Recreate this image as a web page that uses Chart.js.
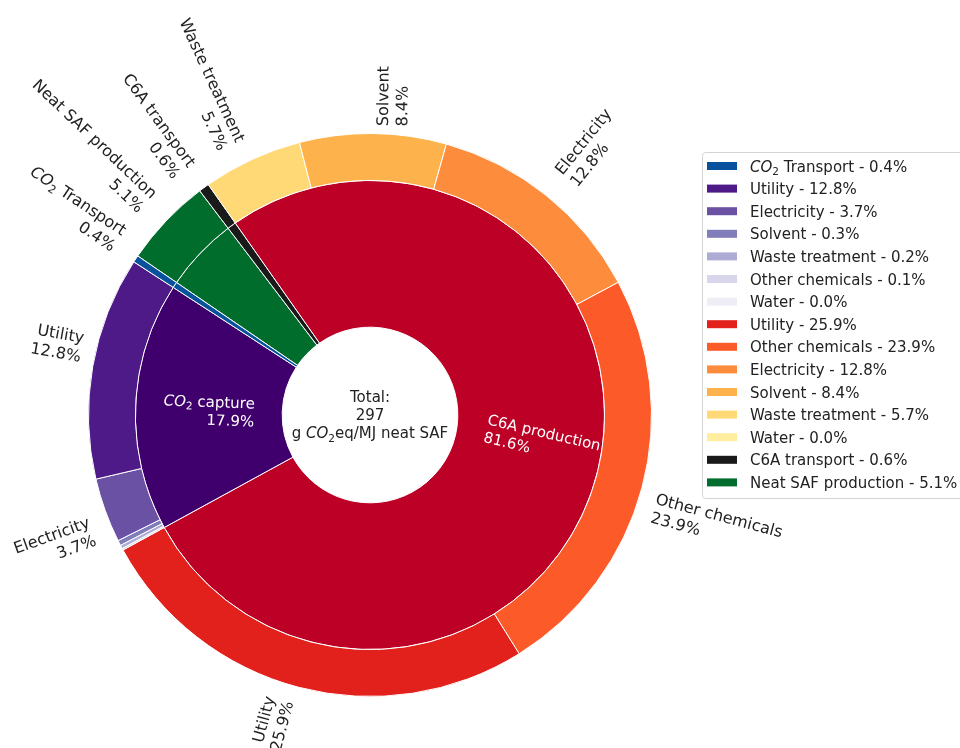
<!DOCTYPE html>
<html>
<head>
<meta charset="utf-8">
<script src="https://cdn.jsdelivr.net/npm/chart.js@4.4.0/dist/chart.umd.min.js"></script>
<style>
  html, body { margin: 0; padding: 0; background: #fff; }
  canvas { display: block; }
</style>
</head>
<body>
<canvas id="chart" width="960" height="748"></canvas>
<script>
// outer ring, listed in legend order (counter-clockwise in the original)
const outerNames = ['CO₂ Transport', 'Utility', 'Electricity', 'Solvent', 'Waste treatment', 'Other chemicals', 'Water',
  'Utility', 'Other chemicals', 'Electricity', 'Solvent', 'Waste treatment', 'Water', 'C6A transport', 'Neat SAF production'];
const outerValues = [0.4, 12.8, 3.7, 0.3, 0.2, 0.1, 0.0, 25.9, 23.9, 12.8, 8.4, 5.7, 0.0, 0.6, 5.1];
const outerColors = ['#08519c', '#4d1a88', '#6a51a3', '#807dba', '#aeabd4', '#d7d6ea', '#efedf5',
  '#e3211c', '#fd5a2a', '#fd8d3c', '#feb24c', '#fed976', '#ffeda0', '#1a1a1a', '#006d2c'];

// inner ring (stage totals)
const innerNames = ['CO₂ Transport', 'CO₂ capture', 'C6A production', 'C6A transport', 'Neat SAF production'];
const innerValues = [0.4, 17.1, 76.7, 0.6, 5.1];
const innerShares = [null, 17.9, 81.6, null, null];
const innerColors = ['#08519c', '#3f006d', '#bd0026', '#1a1a1a', '#006d2c'];

const totalValue = 297;
const totalUnit = 'g CO₂eq/MJ neat SAF';

const FONT = '"DejaVu Sans", sans-serif';
const TEXT = '#222';

// split text so CO₂ gets an italic CO and a lowered 2
function segments(text) {
  const out = [];
  text.split('CO₂').forEach((part, i) => {
    if (i > 0) {
      out.push({ t: 'CO', style: 'italic', scale: 1, dy: 0 });
      out.push({ t: '2', style: 'normal', scale: 0.7, dy: 0.22 });
    }
    if (part) out.push({ t: part, style: 'normal', scale: 1, dy: 0 });
  });
  return out;
}

function setFont(ctx, seg, size) {
  ctx.font = seg.style + ' ' + (size * seg.scale) + 'px ' + FONT;
}

function richWidth(ctx, text, size) {
  let w = 0;
  segments(text).forEach(s => { setFont(ctx, s, size); w += ctx.measureText(s.t).width; });
  return w;
}

function drawRich(ctx, text, x, y, size) {
  segments(text).forEach(s => {
    setFont(ctx, s, size);
    ctx.fillText(s.t, x, y + s.dy * size);
    x += ctx.measureText(s.t).width;
  });
}

// rotate a text block, then align its bounding box on the anchor (like matplotlib)
function drawBlock(ctx, lines, xt, yt, rotDeg, ha, va, size, color) {
  const lineH = size * 1.2;
  const widths = lines.map(l => richWidth(ctx, l, size));
  const w = Math.max(...widths);
  const h = (lines.length - 1) * lineH + size * 1.16;
  const th = -rotDeg * Math.PI / 180;
  const c = Math.cos(th), s = Math.sin(th);
  const xs = [], ys = [];
  [[0, 0], [w, 0], [0, h], [w, h]].forEach(([px, py]) => {
    xs.push(px * c - py * s);
    ys.push(px * s + py * c);
  });
  const minX = Math.min(...xs), maxX = Math.max(...xs);
  const minY = Math.min(...ys), maxY = Math.max(...ys);
  const ox = ha === 'left' ? xt - minX : ha === 'right' ? xt - maxX : xt - (minX + maxX) / 2;
  const oy = va === 'top' ? yt - minY : va === 'bottom' ? yt - maxY : yt - (minY + maxY) / 2;
  ctx.save();
  ctx.translate(ox, oy);
  ctx.rotate(th);
  ctx.fillStyle = color;
  ctx.textAlign = 'left';
  ctx.textBaseline = 'alphabetic';
  lines.forEach((l, i) => {
    const lx = ha === 'left' ? 0 : ha === 'right' ? w - widths[i] : (w - widths[i]) / 2;
    drawRich(ctx, l, lx, i * lineH + size * 0.93, size);
  });
  ctx.restore();
}

function ringLabel(ctx, arc, lines, dist, vaFixed, size, color) {
  const p = arc.getProps(['x', 'y', 'startAngle', 'endAngle'], true);
  const a = (p.startAngle + p.endAngle) / 2;
  const xt = p.x + dist * Math.cos(a);
  const yt = p.y + dist * Math.sin(a);
  const right = xt > p.x;
  const va = vaFixed || (yt < p.y ? 'bottom' : 'top');
  const rot = -a * 180 / Math.PI + (right ? 0 : 180);
  drawBlock(ctx, lines, xt, yt, rot, right ? 'left' : 'right', va, size, color);
}

const labelPlugin = {
  id: 'sunburstText',
  afterDraw(chart) {
    const ctx = chart.ctx;
    const outerArcs = chart.getDatasetMeta(0).data;
    const innerArcs = chart.getDatasetMeta(1).data;
    const n = outerValues.length;

    // outer labels (skip the tiny slices)
    outerArcs.forEach((arc, j) => {
      const i = n - 1 - j;
      if (outerValues[i] < 0.4) return;
      const r = arc.getProps(['outerRadius'], true).outerRadius;
      ringLabel(ctx, arc, [outerNames[i], outerValues[i].toFixed(1) + '%'], r * 1.025, null, 16, TEXT);
    });

    // inner labels
    const m = innerValues.length;
    innerArcs.forEach((arc, j) => {
      const i = m - 1 - j;
      if (innerShares[i] == null) return;
      const r = arc.getProps(['outerRadius'], true).outerRadius;
      ringLabel(ctx, arc, [innerNames[i], innerShares[i].toFixed(1) + '%'], r * 0.49, 'center', 15, '#fff');
    });

    // centre text
    const c = outerArcs[0].getProps(['x', 'y'], true);
    drawBlock(ctx, ['Total:', String(totalValue), totalUnit], c.x, c.y, 0, 'center', 'center', 15, TEXT);

    // legend
    const lx = 702, ly = 152, lw = 262, lh = 346, row = 22.6;
    ctx.save();
    ctx.fillStyle = 'rgba(255,255,255,0.9)';
    ctx.strokeStyle = '#d4d4d4';
    ctx.lineWidth = 1;
    ctx.beginPath();
    ctx.roundRect(lx + 0.5, ly + 0.5, lw, lh, 3);
    ctx.fill();
    ctx.stroke();
    ctx.restore();
    outerNames.forEach((name, i) => {
      const y = ly + 14 + i * row;
      ctx.fillStyle = outerColors[i];
      ctx.fillRect(707, y - 4, 30, 8);
      ctx.fillStyle = TEXT;
      ctx.textAlign = 'left';
      ctx.textBaseline = 'alphabetic';
      drawRich(ctx, name + ' - ' + outerValues[i].toFixed(1) + '%', 750, y + 5.5, 15);
    });
  }
};

const rev = a => a.slice().reverse();

new Chart(document.getElementById('chart').getContext('2d'), {
  type: 'doughnut',
  data: {
    labels: rev(outerNames),
    datasets: [
      {
        label: 'Contribution',
        data: rev(outerValues),
        backgroundColor: rev(outerColors),
        borderColor: '#fff',
        borderWidth: 1,
        weight: 47
      },
      {
        label: 'Stage',
        data: rev(innerValues),
        backgroundColor: rev(innerColors),
        borderColor: '#fff',
        borderWidth: 1,
        weight: 147
      }
    ]
  },
  options: {
    responsive: false,
    animation: false,
    rotation: -55.6,
    cutout: '31.2%',
    layout: { padding: { left: 88, right: 308, top: 133, bottom: 51 } },
    plugins: {
      legend: { display: false },
      tooltip: { enabled: false }
    }
  },
  plugins: [labelPlugin]
});
</script>
</body>
</html>
